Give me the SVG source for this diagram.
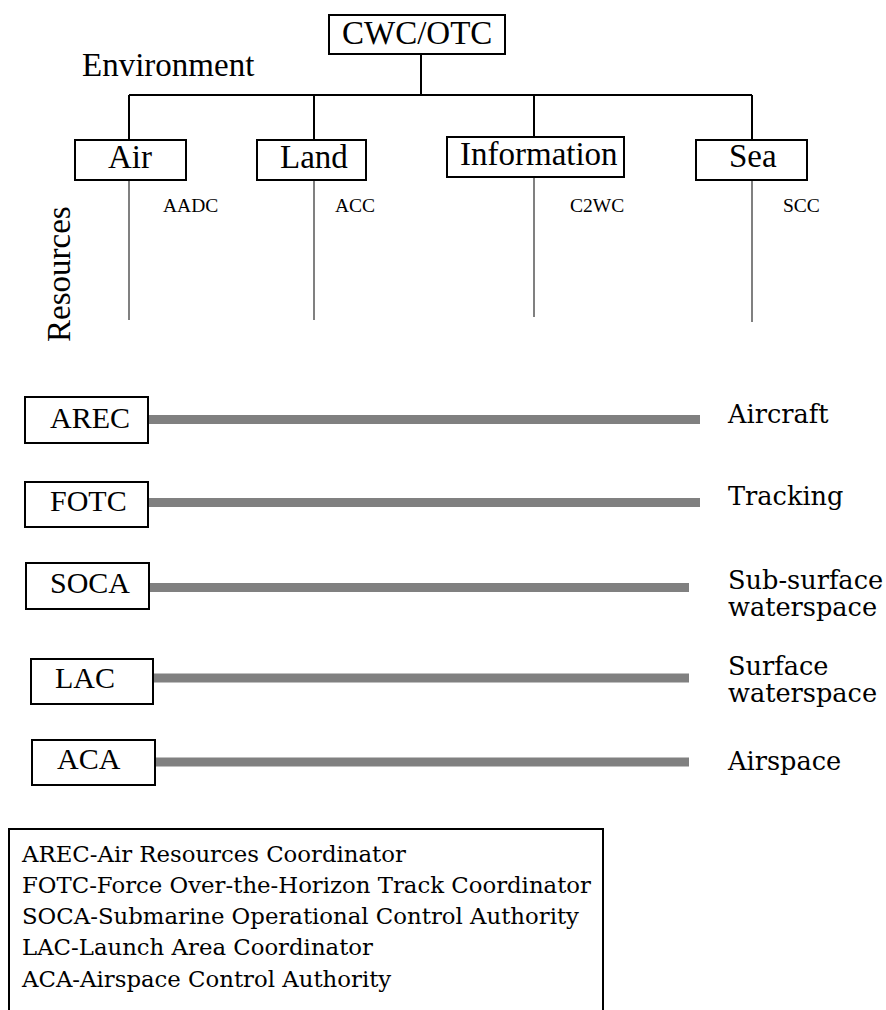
<svg xmlns="http://www.w3.org/2000/svg" width="886" height="1010" viewBox="0 0 886 1010">
<style>
.box{fill:#fff;stroke:#000;stroke-width:2}
.tl{font-family:"Liberation Serif","Times New Roman",serif;fill:#000}
.big{font-size:33px}
.mid{font-size:30px}
.sm{font-size:19.5px}
.ch{font-family:"DejaVu Serif",serif;fill:#000}
.lab{font-size:25.6px}
.leg{font-size:22.8px}
.blk{stroke:#000;stroke-width:2;fill:none}
.gry{stroke:#808080;stroke-width:2;fill:none}
.bar{stroke:#808080;stroke-width:9;fill:none}
</style>
<g id="connectors">
<path class="blk" d="M421,54 V95 M129,95 H752 M129,95 V140 M314,95 V140 M534,95 V137 M752,95 V140"/>
<path class="gry" d="M129,180 V320 M314,180 V320 M534,177 V317 M752,180 V322"/>
<path class="bar" d="M148,419.5 H700 M148,502.5 H700 M149,587.5 H689 M153,678 H689 M155,762 H689"/>
</g>
<g id="cwc"><rect class="box" x="329" y="15" width="176" height="39"/><text class="tl big" x="342" y="44">CWC/OTC</text></g>
<text id="environment" class="tl big" x="82" y="76">Environment</text>
<g id="air"><rect class="box" x="75" y="140" width="111" height="40"/><text class="tl big" x="108" y="168">Air</text></g>
<g id="land"><rect class="box" x="257" y="140" width="109" height="40"/><text class="tl big" x="280" y="168">Land</text></g>
<g id="information"><rect class="box" x="447" y="137" width="177" height="40"/><text class="tl big" x="460" y="165">Information</text></g>
<g id="sea"><rect class="box" x="696" y="140" width="111" height="40"/><text class="tl big" x="729" y="167">Sea</text></g>
<text class="tl sm" x="163" y="212">AADC</text>
<text class="tl sm" x="335" y="212">ACC</text>
<text class="tl sm" x="570" y="212">C2WC</text>
<text class="tl sm" x="783" y="212">SCC</text>
<text id="resources" class="tl big" transform="translate(70,342) rotate(-90)">Resources</text>
<g id="arec"><rect class="box" x="25" y="397" width="123" height="46"/><text class="tl mid" x="50" y="428">AREC</text></g>
<g id="fotc"><rect class="box" x="25" y="482" width="123" height="45"/><text class="tl mid" x="50" y="511">FOTC</text></g>
<g id="soca"><rect class="box" x="26" y="563" width="123" height="46"/><text class="tl mid" x="50" y="593">SOCA</text></g>
<g id="lac"><rect class="box" x="31" y="659" width="122" height="45"/><text class="tl mid" x="55" y="688">LAC</text></g>
<g id="aca"><rect class="box" x="32" y="740" width="123" height="45"/><text class="tl mid" x="57" y="769">ACA</text></g>
<text class="ch lab" x="728" y="423">Aircraft</text>
<text class="ch lab" x="728" y="505">Tracking</text>
<text class="ch lab" x="728" y="589">Sub-surface<tspan x="728" y="616">waterspace</tspan></text>
<text class="ch lab" x="728" y="675">Surface<tspan x="728" y="702">waterspace</tspan></text>
<text class="ch lab" x="728" y="770">Airspace</text>
<g id="legend">
<path class="blk" d="M9,1012 V829 H603 V1012"/>
<text class="ch leg" x="22" y="862">AREC-Air Resources Coordinator</text>
<text class="ch leg" x="22" y="893">FOTC-Force Over-the-Horizon Track Coordinator</text>
<text class="ch leg" x="22" y="924">SOCA-Submarine Operational Control Authority</text>
<text class="ch leg" x="22" y="955">LAC-Launch Area Coordinator</text>
<text class="ch leg" x="22" y="987">ACA-Airspace Control Authority</text>
</g>
</svg>
